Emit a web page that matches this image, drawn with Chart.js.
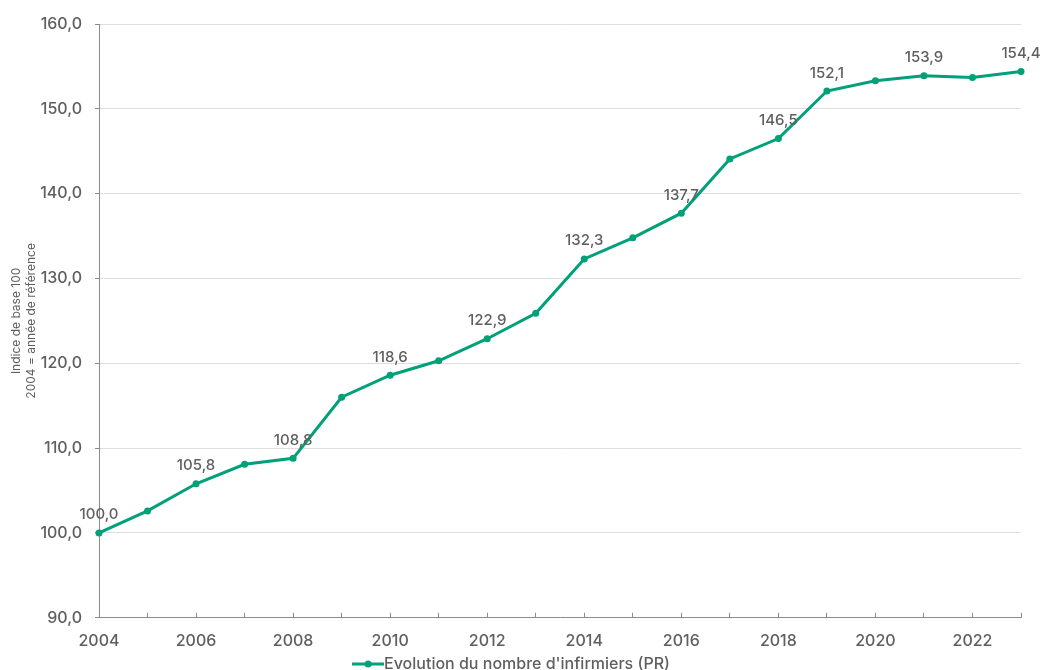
<!DOCTYPE html>
<html>
<head>
<meta charset="utf-8">
<script src="https://cdn.jsdelivr.net/npm/chart.js@4"></script>
<style>
  html, body { margin: 0; padding: 0; background: #fff; overflow: hidden; }
  #wrap { width: 1041px; height: 682px; }
</style>
</head>
<body>
<div id="wrap"><canvas id="myChart"></canvas></div>
<script>
    const years = ["2004", "2005", "2006", "2007", "2008", "2009", "2010", "2011", "2012", "2013",
                   "2014", "2015", "2016", "2017", "2018", "2019", "2020", "2021", "2022", "2023"];
    const infirmiers = [100.0, 102.6, 105.8, 108.1, 108.8, 116.0, 118.6, 120.3, 122.9, 125.9,
                        132.3, 134.8, 137.7, 144.1, 146.5, 152.1, 153.3, 153.9, 153.7, 154.4];
    // years that get a value written above the point
    const labelledYears = ["2004", "2006", "2008", "2010", "2012", "2014", "2016", "2018", "2019", "2021", "2023"];
    const yTicks = [90, 100, 110, 120, 130, 140, 150, 160];

    const vert = "#00A079";
    const gris = "#5f5f5f";
    const police = "Inter, 'Open Sans', sans-serif";

    const fmt = (v) => v.toFixed(1).replace(".", ",");

    // legend icon : small line with a dot in the middle
    const icone = document.createElement("canvas");
    icone.width = 32; icone.height = 10;
    const ic = icone.getContext("2d");
    ic.strokeStyle = vert; ic.lineWidth = 3;
    ic.beginPath(); ic.moveTo(0, 5); ic.lineTo(32, 5); ic.stroke();
    ic.fillStyle = vert;
    ic.beginPath(); ic.arc(16, 5, 3.5, 0, Math.PI * 2); ic.fill();

    const etiquettes = {
      id: "etiquettes",
      afterDatasetsDraw(chart) {
        const ctx = chart.ctx;
        const meta = chart.getDatasetMeta(0);
        ctx.save();
        ctx.font = "500 15px " + police;
        ctx.fillStyle = gris;
        ctx.textAlign = "center";
        ctx.textBaseline = "middle";
        meta.data.forEach((pt, i) => {
          if (!labelledYears.includes(years[i])) return;
          ctx.fillText(fmt(infirmiers[i]), pt.x, pt.y - 18);
        });
        ctx.restore();
      }
    };

    const data = {
      labels: years,
      datasets: [
        {
          label: "Evolution du nombre d'infirmiers (PR)",
          data: infirmiers,
          borderColor: vert,
          backgroundColor: vert,
          borderWidth: 3,
          pointRadius: 3.5,
          pointHoverRadius: 3.5,
          pointBackgroundColor: vert,
          pointBorderWidth: 0,
          tension: 0,
          clip: false,
        },
      ],
    };

    const config = {
      type: "line",
      data: data,
      plugins: [etiquettes],
      options: {
        responsive: true,
        maintainAspectRatio: false,
        animation: false,
        layout: { padding: { top: 24, right: 20, left: 9, bottom: 0 } },
        plugins: {
          tooltip: { enabled: false },
          legend: {
            position: "bottom",
            labels: {
              color: gris,
              font: { size: 16, family: police, weight: "500" },
              padding: 0,
              generateLabels: (chart) => [{
                text: chart.data.datasets[0].label,
                pointStyle: icone,
                fillStyle: vert,
                strokeStyle: vert,
                lineWidth: 0,
                fontColor: gris,
                datasetIndex: 0,
              }],
              usePointStyle: true,
            },
          },
        },
        scales: {
          x: {
            offset: false,
            afterFit: (s) => { s.height -= 14; },
            grid: { display: true, drawOnChartArea: false, color: "#8c8c8c", tickLength: -5 },
            border: { color: "#8c8c8c", width: 1 },
            ticks: {
              autoSkip: false,
              maxRotation: 0,
              color: gris,
              font: { size: 16, family: police, weight: "500" },
              padding: 19,
              callback: (v, i) => (i % 2 === 0 ? years[i] : ""),
            },
          },
          y: {
            min: 90,
            max: 160,
            afterBuildTicks: (axis) => { axis.ticks = yTicks.map((v) => ({ value: v })); },
            afterFit: (s) => { s.width = 90; },
            grid: { color: "#dedede", tickLength: 4, tickColor: "#8c8c8c" },
            border: { color: "#8c8c8c", width: 1 },
            ticks: {
              color: gris,
              font: { size: 16, family: police, weight: "500" },
              padding: 13,
              callback: (v) => fmt(v),
            },
            title: {
              display: true,
              text: ["Indice de base 100", "2004 = année de référence"],
              color: gris,
              font: { size: 12, family: police, lineHeight: 1.25 },
              padding: 0,
            },
          },
        },
      },
    };

    const myChart = new Chart(document.getElementById("myChart"), config);
</script>
</body>
</html>
